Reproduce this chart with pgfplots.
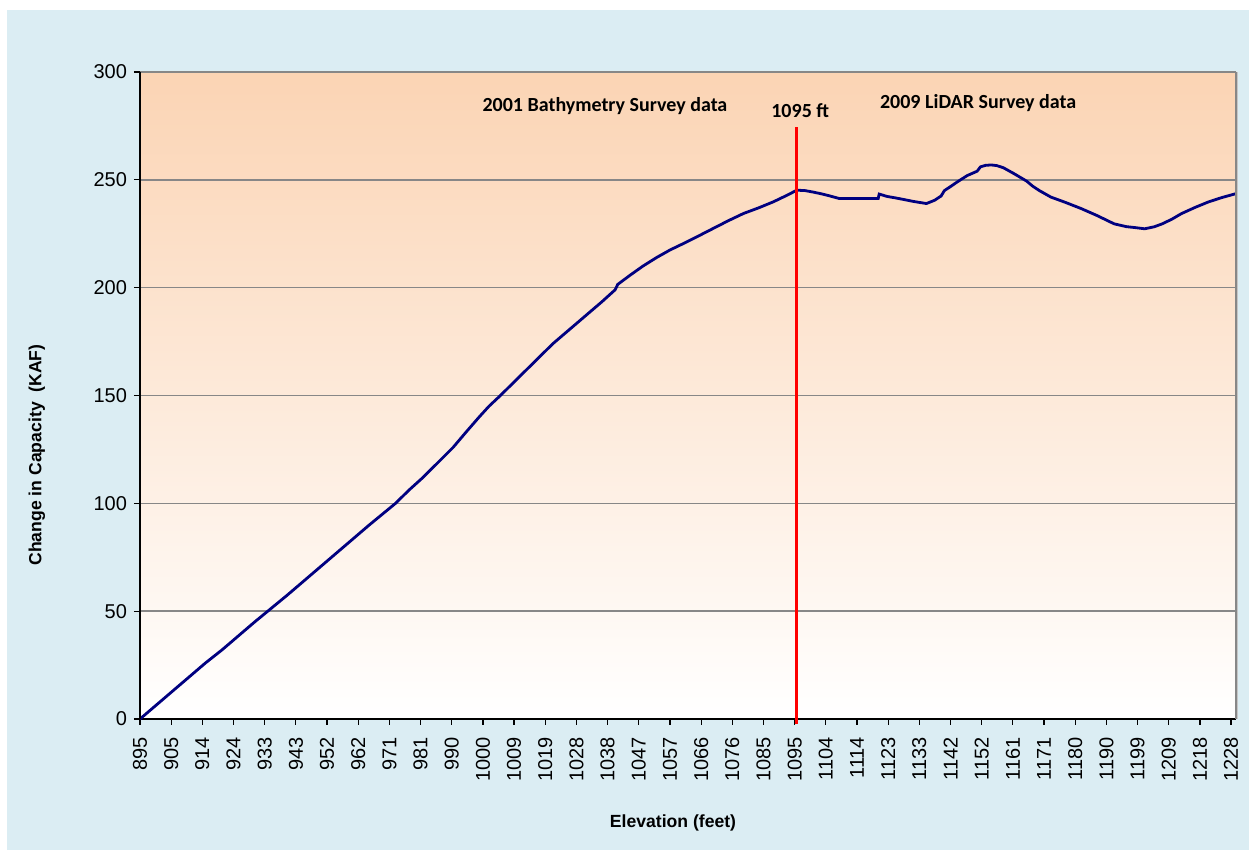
\documentclass[border=0pt]{standalone}
\usepackage{fontspec}
\setmainfont{Liberation Sans}
\newfontfamily\calibri{Carlito}
\usepackage{pgfplots}
\pgfplotsset{compat=1.18}
\definecolor{bgblue}{RGB}{219,237,243}
\definecolor{peach}{RGB}{251,212,180}
\definecolor{gridgray}{RGB}{135,135,135}
\definecolor{navy}{RGB}{0,0,128}
\begin{document}
\begin{tikzpicture}
\fill[white] (0,0) rectangle (624.5pt,425pt);
\fill[bgblue] (3.5pt,0) rectangle (624.5pt,420pt);
\begin{axis}[
  at={(70pt,65.5pt)}, anchor=south west,
  scale only axis, width=548pt, height=323.5pt,
  xmin=895, xmax=1229.5, ymin=0, ymax=300,
  axis x line*=bottom, axis y line*=left,
  axis line style={-, black, line width=0.8pt},
  tick align=outside, major tick length=3pt,
  tick style={black, line width=0.6pt},
  ytick={0,50,...,300},
  ymajorgrids, major grid style={gridgray, line width=0.8pt},
  xtick={895,904.514,914.029,923.543,933.057,942.571,952.086,961.600,971.114,980.629,990.143,999.657,1009.171,1018.686,1028.200,1037.714,1047.229,1056.743,1066.257,1075.771,1085.286,1094.800,1104.314,1113.829,1123.343,1132.857,1142.371,1151.886,1161.400,1170.914,1180.429,1189.943,1199.457,1208.971,1218.486,1228.000},
  xticklabels={895,905,914,924,933,943,952,962,971,981,990,1000,1009,1019,1028,1038,1047,1057,1066,1076,1085,1095,1104,1114,1123,1133,1142,1152,1161,1171,1180,1190,1199,1209,1218,1228},
  x tick label style={rotate=90, anchor=east},
  xticklabel shift=2.5pt,
  /pgf/number format/assume math mode=true,
  tick label style={font=\fontsize{10}{12}\selectfont},
  xlabel={Elevation (feet)},
  ylabel={Change in Capacity\ \ (KAF)},
  label style={font=\fontsize{8.8}{10}\selectfont\bfseries},
  xlabel style={at={(axis description cs:0.4863,-0.1607)}, anchor=center},
  ylabel style={at={(axis description cs:-0.094,0.408)}, anchor=center},
  axis background/.style={shade, top color=peach, bottom color=white},
  clip=false,
]
\addplot[navy, line width=1.4pt] coordinates {
(895,0) (900,6.5) (905,13) (910,19.5) (915,26) (920,32) (925,38.5) (930,45) (934,50)
(940,57.5) (945,64) (950,70.5) (955,77) (960,83.5) (965,90) (969,95) (973,100)
(977,106) (981,111.5) (986,119) (990.6,126) (994.5,133) (998.5,140) (1001.5,145) (1005,150)
(1009,156) (1013,162) (1017,168) (1021,174) (1026,180.5) (1031,187) (1036,193.5) (1040,199) (1040.8,201.5)
(1044.6,205.8) (1048.5,210) (1052.7,214) (1056.8,217.5) (1060.9,220.5) (1065.5,224) (1070,227.5)
(1074.5,231) (1079.2,234.4) (1083.8,237) (1088.3,239.8) (1092,242.5) (1095.5,245.2)
(1098,245) (1100.5,244.3) (1103,243.5) (1105.6,242.5) (1108.5,241.3) (1114,241.3) (1120.3,241.3)
(1120.6,243.4) (1123,242.3) (1126,241.5) (1131,240) (1135,239) (1137.5,240.5) (1139.5,242.5)
(1140.5,245) (1142.5,247) (1144.4,249) (1147.5,252) (1150.5,254) (1151.5,256) (1153,256.7)
(1154.8,256.9) (1156.5,256.6) (1158.5,255.6) (1161.6,253) (1163.6,251.2) (1165.6,249.4)
(1167.5,247) (1169.5,245) (1173,242) (1177.5,239.5) (1182.2,236.7) (1187,233.5)
(1192.3,229.6) (1196,228.3) (1199,227.8) (1201.6,227.3) (1204.5,228.2) (1207,229.6)
(1210,231.8) (1212.8,234.3) (1217,237.2) (1221,239.7) (1225,241.7) (1229.5,243.6)
};
\addplot[red, line width=1.5pt] coordinates {(1095.5,-2.5) (1095.5,274.5)};
\draw[gridgray, line width=0.8pt] (rel axis cs:1,0) -- (rel axis cs:1,1);
\draw[gray!45, line width=0.8pt] ([xshift=0.8pt]rel axis cs:1,0) -- ([xshift=0.8pt]rel axis cs:1,1);
\draw[black, line width=0.8pt] (rel axis cs:0,0) -- (rel axis cs:0,1);
\node[font=\calibri\bfseries\fontsize{10}{12}\selectfont] at (axis cs:1036.9,284.2) {2001 Bathymetry Survey data};
\node[font=\calibri\bfseries\fontsize{10}{12}\selectfont] at (axis cs:1096.5,281.9) {1095 ft};
\node[font=\calibri\bfseries\fontsize{10}{12}\selectfont] at (axis cs:1150.8,285.6) {2009 LiDAR Survey data};
\end{axis}
\end{tikzpicture}
\end{document}
